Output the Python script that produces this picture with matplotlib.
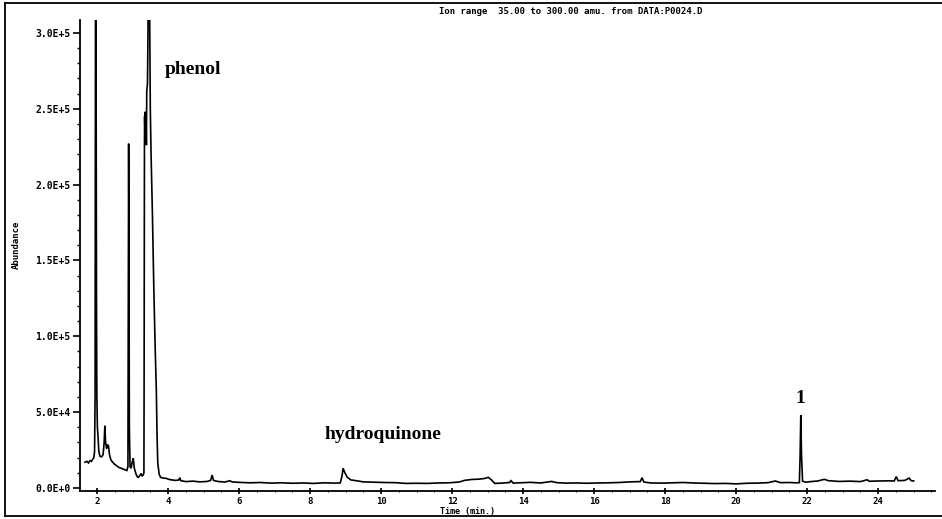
import matplotlib
matplotlib.use("Agg")
import matplotlib.pyplot as plt
from matplotlib.ticker import MultipleLocator
from matplotlib.lines import Line2D

# ---- data ----
time_min = [
    1.66, 1.72, 1.76, 1.80, 1.84, 1.88, 1.91, 1.93, 1.945, 1.952, 1.96, 1.968, 1.975,
    1.985, 1.995, 2.01, 2.03, 2.05, 2.08, 2.13, 2.17, 2.20, 2.22, 2.24, 2.27, 2.29,
    2.32, 2.35, 2.39, 2.44, 2.50, 2.56, 2.62, 2.70, 2.78, 2.84, 2.87, 2.88, 2.89,
    2.90, 2.91, 2.93, 2.96, 2.99, 3.02, 3.05, 3.10, 3.15, 3.20, 3.24, 3.27, 3.30,
    3.32, 3.325, 3.33, 3.335, 3.34, 3.35, 3.36, 3.37, 3.38, 3.39, 3.40, 3.42, 3.435,
    3.445, 3.46, 3.48, 3.50, 3.52, 3.56, 3.60, 3.64, 3.67, 3.69, 3.71, 3.75, 3.79,
    3.85, 3.95, 4.05, 4.20, 4.30, 4.33, 4.36, 4.50, 4.70, 4.90, 5.10, 5.20, 5.24,
    5.28, 5.40, 5.60, 5.74, 5.80, 6.00, 6.30, 6.60, 6.90, 7.20, 7.50, 7.80, 8.10,
    8.40, 8.70, 8.85, 8.90, 8.93, 8.98, 9.05, 9.15, 9.30, 9.50, 9.80, 10.10, 10.40,
    10.70, 11.00, 11.30, 11.60, 11.90, 12.20, 12.35, 12.55, 12.75, 12.90, 13.02,
    13.10, 13.20, 13.40, 13.62, 13.66, 13.72, 13.90, 14.20, 14.50, 14.80, 14.95,
    15.20, 15.50, 15.80, 16.10, 16.40, 16.70, 17.00, 17.20, 17.30, 17.35, 17.40,
    17.60, 17.90, 18.20, 18.50, 18.80, 19.10, 19.40, 19.70, 20.00, 20.30, 20.60,
    20.90, 21.10, 21.25, 21.50, 21.70, 21.78, 21.80, 21.82, 21.84, 21.87, 21.95,
    22.10, 22.30, 22.48, 22.60, 22.90, 23.20, 23.50, 23.69, 23.75, 24.00, 24.30,
    24.45, 24.51, 24.56, 24.75, 24.87, 24.93, 25.00,
]
abundance = [
    17000, 17500, 16500, 18000, 17500, 19000, 20000, 24000, 60000, 200000, 420000, 420000, 250000,
    120000, 60000, 40000, 33000, 24000, 21000, 20500, 22000, 30000, 41000, 30000, 26000, 28500,
    28000, 22000, 18500, 17000, 15500, 14500, 13500, 12800, 12000, 11500, 14000, 120000, 227000,
    150000, 40000, 14000, 13000, 17000, 19500, 13000, 9000, 6800, 8000, 9500, 8000, 8500,
    10000, 60000, 150000, 225000, 245000, 232000, 248000, 228000, 240000, 226000, 262000, 266000, 300000,
    420000, 420000, 320000, 250000, 222000, 180000, 130000, 90000, 64000, 35000, 16500, 9000, 7000,
    6600, 6300, 5500, 5000, 5200, 6800, 4800, 4200, 4500, 4000, 4300, 5000, 8500,
    5000, 4300, 3900, 4800, 4000, 3700, 3400, 3600, 3200, 3400, 3100, 3300, 3000,
    3400, 3200, 3300, 8000, 13000, 10000, 7000, 5300, 4800, 4000, 3800, 3600, 3500,
    3000, 3100, 3000, 3300, 3400, 3900, 5000, 5600, 5800, 6200, 7000,
    5500, 3000, 3200, 3600, 4800, 3200, 3400, 3700, 3300, 4300, 3500,
    3200, 3300, 3100, 3300, 3400, 3600, 4000, 4100, 4200, 6800, 3900,
    3300, 3200, 3400, 3600, 3300, 3100, 2900, 3000, 2700, 3100, 3200,
    3500, 4600, 3500, 3600, 3400, 3500, 20000, 48000, 22000, 4500, 3800,
    4200, 4600, 5700, 4800, 4300, 4500, 4200, 5400, 4400, 4600, 4700,
    4600, 7500, 4800, 5000, 6500, 4800, 4600,
]
ytick_values = [0, 50000, 100000, 150000, 200000, 250000, 300000]
ytick_labels = ["0.0E+0", "5.0E+4", "1.0E+5", "1.5E+5", "2.0E+5", "2.5E+5", "3.0E+5"]
xtick_values = [2, 4, 6, 8, 10, 12, 14, 16, 18, 20, 22, 24]
annotations = [("phenol", 3.92, 2.76e5, "left"),
               ("hydroquinone", 8.42, 3.50e4, "left"),
               ("1", 21.8, 5.9e4, "center")]
title_text = "Ion range  35.00 to 300.00 amu. from DATA:P0024.D"

W, H = 942, 519
fig = plt.figure(figsize=(W / 100, H / 100), dpi=100)
fig.patch.set_facecolor("white")

mono = {"family": "DejaVu Sans Mono", "weight": "bold"}
serif = {"family": "Liberation Serif", "weight": "bold"}

ax = fig.add_axes([80 / W, (H - 491) / H, (935 - 80) / W, (491 - 20) / H])
ax.plot(time_min, abundance, color="black", lw=1.2, solid_joinstyle="miter")
ax.set_xlim(1.52, 25.6)
ax.set_ylim(-2000, 308500)

for s in ("top", "right"):
    ax.spines[s].set_visible(False)
for s in ("left", "bottom"):
    ax.spines[s].set_linewidth(1.3)

ax.set_yticks(ytick_values)
ax.set_yticklabels(ytick_labels, fontdict=mono, fontsize=7)
ax.yaxis.set_minor_locator(MultipleLocator(10000))
ax.set_xticks(xtick_values)
ax.set_xticklabels([str(v) for v in xtick_values], fontdict=mono, fontsize=6.5)
ax.xaxis.set_minor_locator(MultipleLocator(0.5))
ax.tick_params(axis="y", which="major", direction="out", length=5, width=1.2, pad=2)
ax.tick_params(axis="y", which="minor", direction="out", length=2.5, width=1.0)
ax.tick_params(axis="x", which="major", direction="inout", length=4, width=1.2, pad=2)
ax.tick_params(axis="x", which="minor", direction="inout", length=2, width=0.8)

for text, tx, ty, ha in annotations:
    ax.text(tx, ty, text, fontdict=serif, fontsize=14, ha=ha, va="center", color="black")

fig.text(571 / W, 1 - 12 / H, title_text, ha="center", va="center", fontsize=6.5, **mono)
fig.text(468 / W, 1 - 511.5 / H, "Time (min.)", ha="center", va="center", fontsize=6, **mono)
fig.text(16 / W, 1 - 245 / H, "Abundance", ha="center", va="center", rotation=90,
         fontsize=6.5, **mono)

# outer frame
frame_kw = dict(color="black", lw=1.3, transform=fig.transFigure)
fig.add_artist(Line2D([5 / W, 5 / W], [3 / H, 1 - 3 / H], **frame_kw))
fig.add_artist(Line2D([5 / W, 1.0], [1 - 3 / H, 1 - 3 / H], **frame_kw))
fig.add_artist(Line2D([5 / W, 1.0], [3 / H, 3 / H], **frame_kw))

fig.savefig("out.png", dpi=100)
